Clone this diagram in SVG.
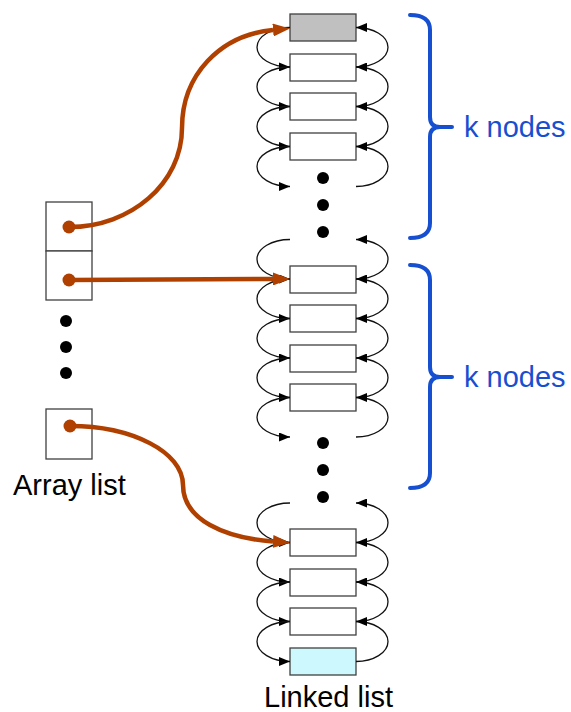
<svg xmlns="http://www.w3.org/2000/svg" width="571" height="712" viewBox="0 0 571 712">
<style>
.box{fill:#fff;stroke:#404040;stroke-width:1.3}
.arc{fill:none;stroke:#111;stroke-width:1.3;marker-end:url(#ah)}
.ptr{fill:none;stroke:#b04000;stroke-width:4.5}
.ptrh{fill:none;stroke:#b04000;stroke-width:4.5;marker-end:url(#oh)}
.odot{fill:#b04000}
.dot{fill:#000}
.brace{fill:none;stroke:#1650d0;stroke-width:4;stroke-linecap:round;stroke-linejoin:round}
.lbl{font-family:"Liberation Sans",Arial,sans-serif;font-size:29px;fill:#000}
.klbl{font-family:"Liberation Sans",Arial,sans-serif;font-size:29px;fill:#1650d0}
</style>
<defs>
<marker id="ah" markerUnits="userSpaceOnUse" markerWidth="11" markerHeight="9" refX="11" refY="4.5" orient="auto"><path d="M0,0 L11,4.5 L0,9 z" fill="#000"/></marker>
<marker id="oh" markerUnits="userSpaceOnUse" markerWidth="17" markerHeight="13" refX="0" refY="6.5" orient="auto"><path d="M0,0 L17,6.5 L0,13 z" fill="#b04000"/></marker>
</defs>
<g id="linked-list">
<g id="n1"><rect class="box" x="290" y="14" width="66" height="27" style="fill:#c0c0c0"/></g>
<g id="n2"><rect class="box" x="290" y="54" width="66" height="27"/></g>
<g id="n3"><rect class="box" x="290" y="93" width="66" height="27"/></g>
<g id="n4"><rect class="box" x="290" y="133" width="66" height="27"/></g>
<g id="dots1"><circle class="dot" cx="323" cy="178" r="6"/><circle class="dot" cx="323" cy="205" r="6"/><circle class="dot" cx="323" cy="232" r="6"/></g>
<g id="n5"><rect class="box" x="290" y="266" width="66" height="27"/></g>
<g id="n6"><rect class="box" x="290" y="305" width="66" height="27"/></g>
<g id="n7"><rect class="box" x="290" y="345" width="66" height="27"/></g>
<g id="n8"><rect class="box" x="290" y="384" width="66" height="27"/></g>
<g id="dots2"><circle class="dot" cx="323" cy="443" r="6"/><circle class="dot" cx="323" cy="470" r="6"/><circle class="dot" cx="323" cy="497" r="6"/></g>
<g id="n9"><rect class="box" x="290" y="529" width="66" height="27"/></g>
<g id="n10"><rect class="box" x="290" y="569" width="66" height="27"/></g>
<g id="n11"><rect class="box" x="290" y="608" width="66" height="27"/></g>
<g id="n12"><rect class="box" x="290" y="648" width="66" height="27" style="fill:#cdf8fd"/></g>
<text class="lbl" x="264" y="707">Linked list</text>
</g>
<g id="array-list">
<g id="a1"><rect class="box" x="46" y="202" width="46" height="49"/><circle class="odot" cx="69" cy="227" r="6.5"/></g>
<g id="a2"><rect class="box" x="46" y="251" width="46" height="49"/><circle class="odot" cx="69" cy="280" r="6.5"/></g>
<g id="adots"><circle class="dot" cx="66" cy="321" r="6"/><circle class="dot" cx="66" cy="347" r="6"/><circle class="dot" cx="66" cy="373" r="6"/></g>
<g id="a3"><rect class="box" x="46" y="409" width="46" height="50"/><circle class="odot" cx="70" cy="426" r="6.5"/></g>
<text class="lbl" x="13" y="495">Array list</text>
</g>
<g id="braces">
<g id="b1"><path class="brace" d="M410,15 Q430,15 430,30 L430,117 Q430,127 440,127 L452,127 M440,127 Q430,127 430,137 L430,223 Q430,238 410,238"/><text class="klbl" x="464" y="137">k nodes</text></g>
<g id="b2"><path class="brace" d="M410,265 Q430,265 430,280 L430,367 Q430,377 440,377 L452,377 M440,377 Q430,377 430,387 L430,473 Q430,488 410,488"/><text class="klbl" x="464" y="387">k nodes</text></g>
</g>
<g id="connectors">
<path class="arc" d="M290,27.5 A33,19.75 0 0 0 290,67"/>
<path class="arc" d="M290,67 A33,19.75 0 0 0 290,106.5"/>
<path class="arc" d="M290,106.5 A33,20 0 0 0 290,146.5"/>
<path class="arc" d="M290,146.5 A33,20 0 0 0 290,186.5"/>
<path class="arc" d="M290,239.5 A33,19.75 0 0 0 290,279"/>
<path class="arc" d="M290,279 A33,19.75 0 0 0 290,318.5"/>
<path class="arc" d="M290,318.5 A33,19.75 0 0 0 290,358"/>
<path class="arc" d="M290,358 A33,19.75 0 0 0 290,397.5"/>
<path class="arc" d="M290,397.5 A33,19.75 0 0 0 290,437"/>
<path class="arc" d="M290,503 A33,19.75 0 0 0 290,542.5"/>
<path class="arc" d="M290,542.5 A33,19.75 0 0 0 290,582"/>
<path class="arc" d="M290,582 A33,19.75 0 0 0 290,621.5"/>
<path class="arc" d="M290,621.5 A33,20 0 0 0 290,661.5"/>
<path class="arc" d="M356,67 A32,19.75 0 0 0 356,27.5"/>
<path class="arc" d="M356,106.5 A32,19.75 0 0 0 356,67"/>
<path class="arc" d="M356,146.5 A32,20 0 0 0 356,106.5"/>
<path class="arc" d="M356,186.5 A32,20 0 0 0 356,146.5"/>
<path class="arc" d="M356,279 A32,19.75 0 0 0 356,239.5"/>
<path class="arc" d="M356,318.5 A32,19.75 0 0 0 356,279"/>
<path class="arc" d="M356,358 A32,19.75 0 0 0 356,318.5"/>
<path class="arc" d="M356,397.5 A32,19.75 0 0 0 356,358"/>
<path class="arc" d="M356,437 A32,19.75 0 0 0 356,397.5"/>
<path class="arc" d="M356,542.5 A32,19.75 0 0 0 356,503"/>
<path class="arc" d="M356,582 A32,19.75 0 0 0 356,542.5"/>
<path class="arc" d="M356,621.5 A32,19.75 0 0 0 356,582"/>
<path class="arc" d="M356,661.5 A32,20 0 0 0 356,621.5"/>
<path class="ptrh" d="M69,227 C131,227 182,183 182,128 C182,75 220,35 273,30"/>
<path class="ptrh" d="M69,280 L273,279"/>
<path class="ptrh" d="M70,426 C132,426 183,452 183,485 C183,520 225,538 273,541.5"/>
</g>
</svg>
